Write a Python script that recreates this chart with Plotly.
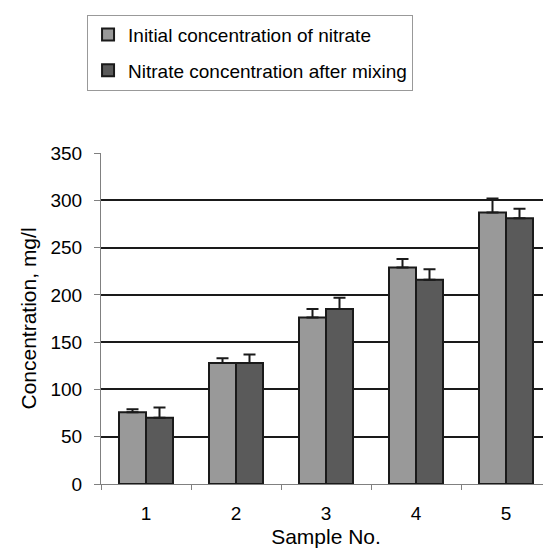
import plotly.graph_objects as go

samples = ["1", "2", "3", "4", "5"]
initial = [76, 128, 176, 229, 287]
initial_err = [3, 5, 9, 9, 15]
after = [70, 128, 185, 216, 281]
after_err = [11, 9, 12, 11, 10]

font = "Liberation Sans, Arial, sans-serif"

fig = go.Figure()
fig.add_trace(go.Bar(
    x=samples, y=initial, name="Initial concentration of nitrate",
    marker=dict(color="#999999", line=dict(color="#1a1a1a", width=2)),
    error_y=dict(type="data", symmetric=False, array=initial_err,
                 arrayminus=[0] * 5, color="#1a1a1a", thickness=2, width=6),
    legendgroup="a",
))
fig.add_trace(go.Bar(
    x=samples, y=after, name="Nitrate concentration after mixing",
    marker=dict(color="#5a5a5a", line=dict(color="#1a1a1a", width=2)),
    error_y=dict(type="data", symmetric=False, array=after_err,
                 arrayminus=[0] * 5, color="#1a1a1a", thickness=2, width=6),
    legendgroup="b",
))

# page body has an 8px default margin, so the figure is sized to fit the window
fig.update_layout(
    width=543, height=540,
    margin=dict(l=93, r=0, t=145, b=64, autoexpand=False),
    paper_bgcolor="white", plot_bgcolor="white",
    barmode="group", bargap=0.4, bargroupgap=0,
    font=dict(family=font, size=18, color="#000000"),
    showlegend=True,
    legend=dict(
        x=-0.031, y=1.418, xanchor="left", yanchor="top",
        bordercolor="#999999", borderwidth=1, bgcolor="white",
        font=dict(family=font, size=19, color="#000000"),
        tracegroupgap=8, itemwidth=30,
    ),
    xaxis=dict(
        showline=True, linecolor="#808080", linewidth=1,
        ticks="outside", tickson="boundaries", ticklen=5, tickcolor="#808080",
        tickfont=dict(size=19), showgrid=False, ticklabelstandoff=12,
        title=dict(text="Sample No.", font=dict(size=21), standoff=8),
    ),
    yaxis=dict(
        range=[0, 350], dtick=50, showline=True, linecolor="#808080", linewidth=1,
        ticks="outside", ticklen=6, tickcolor="#808080",
        showgrid=True, gridcolor="#1a1a1a", gridwidth=1.5,
        tickfont=dict(size=19), zeroline=False, ticklabelstandoff=8,
        title=dict(text="Concentration, mg/l", font=dict(size=21), standoff=8),
    ),
)

fig.write_html("out.html")
